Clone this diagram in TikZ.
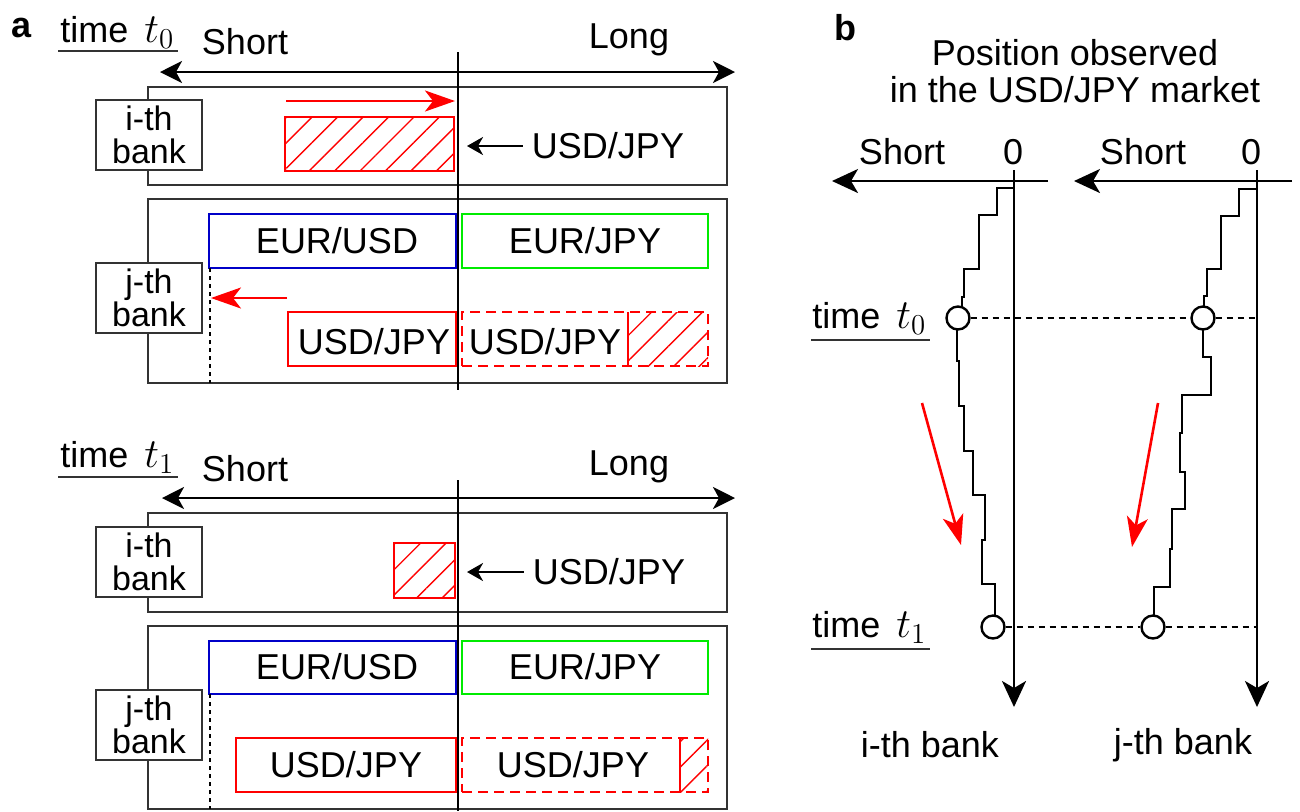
\documentclass[tikz,border=0pt]{standalone}
\usepackage[no-math]{fontspec}
\setmainfont{Liberation Sans}
\usetikzlibrary{fit,arrows.meta,patterns.meta}
\definecolor{bblue}{RGB}{0,0,200}
\definecolor{bgreen}{RGB}{0,235,0}
\definecolor{bred}{RGB}{255,0,0}
\newcommand{\mt}[1]{{\fontsize{21}{15}\selectfont$#1$}}
\begin{document}
\begin{tikzpicture}[x=0.5pt,y=-0.5pt,
  txt/.style={font=\fontsize{18}{15}\selectfont, inner sep=0pt},
  bold/.style={font=\fontsize{18}{15}\selectfont\bfseries, inner sep=0pt},
  outerbox/.style={draw=black!80, line width=0.75pt},
  banklab/.style={draw=black!80, line width=0.75pt, fill=white, minimum width=53pt, minimum height=35pt, align=center, inner sep=0pt, font=\fontsize{17}{16.5}\selectfont},
  cbox/.style={line width=1.35pt, inner sep=0pt, font=\fontsize{18}{15}\selectfont},
  dbox/.style={line width=1.35pt, draw=bred, dash pattern=on 5pt off 3pt},
  hatch/.style={pattern={Lines[angle=45,distance=9pt,line width=0.7pt]}, pattern color=bred},
  bigarrow/.style={line width=1.4pt, {Stealth[length=11pt,width=11pt,inset=3pt]}-{Stealth[length=11pt,width=11pt,inset=3pt]}},
  smallarrow/.style={line width=1.3pt, -{Stealth[length=8pt,width=9pt,inset=2.5pt]}},
  redarrow/.style={line width=1.3pt, draw=bred, -{Stealth[length=15pt,width=10.5pt,inset=4pt]}},
  axisarrow/.style={line width=1.3pt, -{Stealth[length=13pt,width=12pt,inset=3.5pt]}},
  divider/.style={line width=1.3pt},
  dotv/.style={line width=1.3pt, dash pattern=on 2pt off 2pt},
  doth/.style={line width=1.2pt, dash pattern=on 3pt off 2.5pt},
  stair/.style={line width=1.3pt, line join=miter},
  dot/.style={circle, draw, fill=white, line width=1.2pt, minimum size=11.5pt, inner sep=0pt},
  underl/.style={line width=0.7pt, draw=black!80}
]
\useasboundingbox (0,0) rectangle (1300,811);

% ---------------- panel a ----------------
\node[bold] (la) at (22,28) {a};

% time t0
\node[txt, anchor=base west] (tl0) at (60,42) {time\hspace{8pt}\mt{t_0}};
\draw[underl] (58,51) -- (178,51);
\node[txt] (sh0) at (245,42) {Short};
\node[txt] (lo0) at (629,40) {Long};
\coordinate (al0) at (160,72);
\coordinate (ar0) at (735,72);
\draw[bigarrow] (al0) -- (ar0);
\coordinate (vt0) at (458,52);
\coordinate (vb0) at (458,390);

% i-th bank t0
\node[outerbox, fit={(148,87) (727,185)}, inner sep=0pt] (ib0) {};
\node[banklab] (il0) at (149,135) {i-th\\bank};
\coordinate (ra0s) at (286,101);
\coordinate (ra0e) at (455,101);
\draw[redarrow] (ra0s) -- (ra0e);
\fill[hatch] (285,117) rectangle (454,171);
\node[draw=bred, line width=1.25pt, fit={(285,117) (454,171)}, inner sep=0pt] (ih0) {};
\node[txt] (iu0) at (608,146) {USD/JPY};
\coordinate (ia0) at (467,146);
\draw[smallarrow] (iu0.west) ++(-9,0) coordinate (ia0s) -- (ia0);

% j-th bank t0
\node[outerbox, fit={(148,199) (727,383)}, inner sep=0pt] (jb0) {};
\node[cbox, draw=bblue, fit={(209,214) (456,268)}] (eu0) {};
\node[txt] at (337,241) {EUR/USD};
\node[cbox, draw=bgreen, fit={(462,214) (708,268)}] (ej0) {};
\node[txt] at (585,241) {EUR/JPY};
\node[cbox, draw=bred, fit={(288,312) (456,366)}] (us0) {};
\node[txt] at (374,342) {USD/JPY};
\fill[hatch] (628,312) rectangle (708,366);
\node[dbox, fit={(462,312) (708,366)}, inner sep=0pt] (ud0) {};
\node[txt] at (545,342) {USD/JPY};
\coordinate (hl0t) at (628,312);
\coordinate (hl0b) at (628,366);
\draw[bred, line width=1.1pt] (hl0t) -- (hl0b);
\coordinate (dv0t) at (210,268);
\coordinate (dv0b) at (210,383);
\draw[dotv] (dv0t) -- (dv0b);
\coordinate (ra1s) at (287,298);
\coordinate (ra1e) at (211,298);
\draw[redarrow] (ra1s) -- (ra1e);
\node[banklab] (jl0) at (149,298) {j-th\\bank};
\draw[divider] (vt0) -- (vb0);

% time t1
\node[txt, anchor=base west] (tl1) at (60,467) {time\hspace{8pt}\mt{t_1}};
\draw[underl] (58,477) -- (178,477);
\node[txt] (sh1) at (245,469) {Short};
\node[txt] (lo1) at (629,467) {Long};
\coordinate (al1) at (162,498);
\coordinate (ar1) at (735,498);
\draw[bigarrow] (al1) -- (ar1);
\coordinate (vt1) at (458,480);
\coordinate (vb1) at (458,811);

% i-th bank t1
\node[outerbox, fit={(148,513) (727,612)}, inner sep=0pt] (ib1) {};
\node[banklab] (il1) at (149,562) {i-th\\bank};
\fill[hatch] (394,543) rectangle (455,598);
\node[draw=bred, line width=1.25pt, fit={(394,543) (455,598)}, inner sep=0pt] (ih1) {};
\node[txt] (iu1) at (609,572) {USD/JPY};
\coordinate (ia1) at (467,572);
\draw[smallarrow] (iu1.west) ++(-9,0) coordinate (ia1s) -- (ia1);

% j-th bank t1
\node[outerbox, fit={(148,626) (727,809)}, inner sep=0pt] (jb1) {};
\node[cbox, draw=bblue, fit={(209,641) (456,694)}] (eu1) {};
\node[txt] at (337,667) {EUR/USD};
\node[cbox, draw=bgreen, fit={(462,641) (708,694)}] (ej1) {};
\node[txt] at (585,667) {EUR/JPY};
\node[cbox, draw=bred, fit={(236,738) (456,792)}] (us1) {};
\node[txt] at (346,765) {USD/JPY};
\fill[hatch] (680,738) rectangle (708,792);
\node[dbox, fit={(462,738) (708,792)}, inner sep=0pt] (ud1) {};
\node[txt] at (573,765) {USD/JPY};
\coordinate (hl1t) at (680,738);
\coordinate (hl1b) at (680,792);
\draw[bred, line width=0.8pt] (hl1t) -- (hl1b);
\coordinate (dv1t) at (210,694);
\coordinate (dv1b) at (210,809);
\draw[dotv] (dv1t) -- (dv1b);
\node[banklab] (jl1) at (149,725) {j-th\\bank};
\draw[divider] (vt1) -- (vb1);

% ---------------- panel b ----------------
\node[bold] (lb) at (845,28) {b};
\node[txt] (tit1) at (1075,53) {Position observed};
\node[txt] (tit2) at (1075,90) {in the USD/JPY market};

\node[txt] (shi) at (902,152) {Short};
\node[txt] (zi) at (1013,152) {0};
\node[txt] (shj) at (1143,152) {Short};
\node[txt] (zj) at (1251,152) {0};

\coordinate (hi1) at (1048,181);
\coordinate (hi2) at (832,181);
\draw[axisarrow] (hi1) -- (hi2);
\coordinate (hj1) at (1292,181);
\coordinate (hj2) at (1074,181);
\draw[axisarrow] (hj1) -- (hj2);
\coordinate (vi1) at (1014,170);
\coordinate (vi2) at (1014,707);
\draw[axisarrow] (vi1) -- (vi2);
\coordinate (vj1) at (1257,170);
\coordinate (vj2) at (1257,707);
\draw[axisarrow] (vj1) -- (vj2);

% staircases
\draw[stair] (1014,188) -- (997,188) -- (997,215) -- (979,215) -- (979,269) -- (964,269) -- (964,297) -- (962,297) -- (962,318)
  -- (957,318) -- (957,361) -- (959,361) -- (959,406) -- (964,406) -- (964,451) -- (973,451) -- (973,495) -- (985,495)
  -- (985,540) -- (982,540) -- (982,584) -- (995,584) -- (995,627);
\draw[stair] (1257,189) -- (1239,189) -- (1239,216) -- (1221,216) -- (1221,269) -- (1207,269) -- (1207,296) -- (1204,296) -- (1204,318)
  -- (1203,318) -- (1203,357) -- (1211,357) -- (1211,395) -- (1182,395) -- (1182,433) -- (1180,433) -- (1180,472) -- (1185,472)
  -- (1185,509) -- (1172,509) -- (1172,549) -- (1170,549) -- (1170,587) -- (1154,587) -- (1154,627);

% time labels
\node[txt, anchor=base west] (tb0) at (812,328) {time\hspace{8pt}\mt{t_0}};
\draw[underl] (811,340) -- (930,340);
\node[txt, anchor=base west] (tb1) at (812,637) {time\hspace{8pt}\mt{t_1}};
\draw[underl] (811,649) -- (930,649);

% dots and dotted lines
\node[dot] (ci0) at (958,318) {};
\node[dot] (cj0) at (1203,318) {};
\node[dot] (ci1) at (993,627) {};
\node[dot] (cj1) at (1153,627) {};
\coordinate (ej0x) at (1257,318);
\coordinate (ej1x) at (1257,627);
\draw[doth] (ci0.east) -- (cj0.west);
\draw[doth] (cj0.east) -- (ej0x);
\draw[doth] (ci1.east) -- (cj1.west);
\draw[doth] (cj1.east) -- (ej1x);

% red trend arrows
\coordinate (rbi1) at (922,403);
\coordinate (rbi2) at (961,545);
\draw[redarrow] (rbi1) -- (rbi2);
\coordinate (rbj1) at (1158,403);
\coordinate (rbj2) at (1132,547);
\draw[redarrow] (rbj1) -- (rbj2);

\node[txt] (bi) at (930,745) {i-th bank};
\node[txt] (bj) at (1183,745) {j-th bank};
\end{tikzpicture}
\end{document}
